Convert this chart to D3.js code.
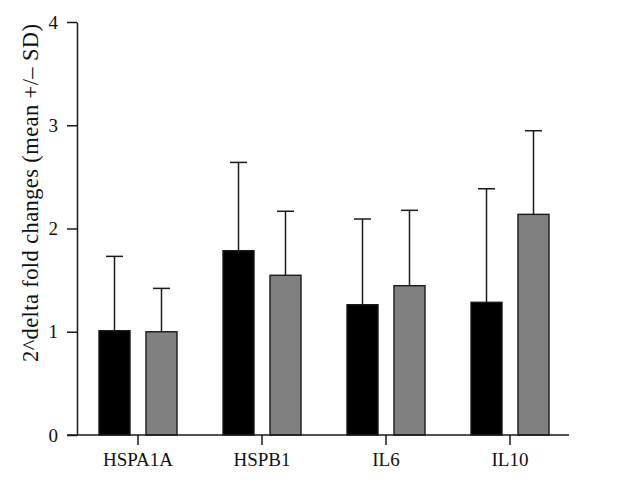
<!DOCTYPE html>
<html>
<head>
<meta charset="utf-8">
<script src="https://cdn.jsdelivr.net/npm/d3@7"></script>
<style>
  html, body { margin: 0; padding: 0; background: #fff; }
  svg { display: block; }
</style>
</head>
<body>
<svg id="chart" width="631" height="484"></svg>
<script>
const categories = ["HSPA1A", "HSPB1", "IL6", "IL10"];
const seriesNames = ["Group 1", "Group 2"];
const meanGroup1 = [1.01, 1.785, 1.262, 1.285];
const meanGroup2 = [1.00, 1.547, 1.446, 2.137];
const sdGroup1 = [0.72, 0.855, 0.83, 1.10];
const sdGroup2 = [0.42, 0.62, 0.73, 0.81];
const yTicks = [0, 1, 2, 3, 4];
const yLabel = "2^delta fold changes (mean +/\u2013 SD)";
const colors = ["#000000", "#808080"];

const svg = d3.select("#chart");
const font = "Liberation Serif";

const x = d3.scaleBand().domain(categories).range([76, 572]).paddingInner(0).paddingOuter(0);
const xSub = d3.scaleBand().domain(seriesNames).range([23, 101]).paddingInner(0.34).paddingOuter(0);
const y = d3.scaleLinear().domain([0, 4]).range([435, 22]);

const rows = [];
categories.forEach((c, i) => {
  rows.push({cat: c, s: seriesNames[0], mean: meanGroup1[i], sd: sdGroup1[i], color: colors[0]});
  rows.push({cat: c, s: seriesNames[1], mean: meanGroup2[i], sd: sdGroup2[i], color: colors[1]});
});

// bars
svg.append("g").selectAll("rect").data(rows).join("rect")
  .attr("x", d => x(d.cat) + xSub(d.s))
  .attr("y", d => y(d.mean))
  .attr("width", xSub.bandwidth())
  .attr("height", d => y(0) - y(d.mean))
  .attr("fill", d => d.color)
  .attr("stroke", "#1a1a1a")
  .attr("stroke-width", 1.4);

// error bars
const eb = svg.append("g").attr("stroke", "#1a1a1a").attr("stroke-width", 1.5);
rows.forEach(d => {
  const cx = x(d.cat) + xSub(d.s) + xSub.bandwidth() / 2;
  eb.append("line").attr("x1", cx).attr("x2", cx).attr("y1", y(d.mean)).attr("y2", y(d.mean + d.sd));
  eb.append("line").attr("x1", cx - 8.5).attr("x2", cx + 8.5).attr("y1", y(d.mean + d.sd)).attr("y2", y(d.mean + d.sd));
});

// y axis
const yAxis = svg.append("g").attr("transform", `translate(${x.range()[0] + 1},0)`)
  .call(d3.axisLeft(y).tickValues(yTicks).tickFormat(d3.format("d")).tickSize(10).tickSizeOuter(0).tickPadding(9));
yAxis.select(".domain").attr("stroke", "#1a1a1a").attr("stroke-width", 1.5);
yAxis.selectAll(".tick line").attr("stroke", "#1a1a1a").attr("stroke-width", 1.5);
yAxis.selectAll(".tick text").style("font-family", font).style("font-size", "19px").attr("fill", "#111");

// x axis
const xAxis = svg.append("g").attr("transform", `translate(0,${y(0)})`)
  .call(d3.axisBottom(x).tickSize(10).tickSizeOuter(0).tickPadding(8));
xAxis.select(".domain").attr("d", `M${x.range()[0] - 9},0H${x.range()[1] - 3}`)
  .attr("stroke", "#1a1a1a").attr("stroke-width", 1.5);
xAxis.selectAll(".tick line").attr("stroke", "#1a1a1a").attr("stroke-width", 1.5);
xAxis.selectAll(".tick text").style("font-family", font).style("font-size", "19px").attr("fill", "#111");

// y label
svg.append("text")
  .attr("transform", `translate(38,193) rotate(-90)`)
  .attr("text-anchor", "middle")
  .style("font-family", font)
  .style("font-size", "22.5px")
  .attr("fill", "#111")
  .attr("textLength", 338)
  .attr("lengthAdjust", "spacing")
  .text(yLabel);
</script>
</body>
</html>
